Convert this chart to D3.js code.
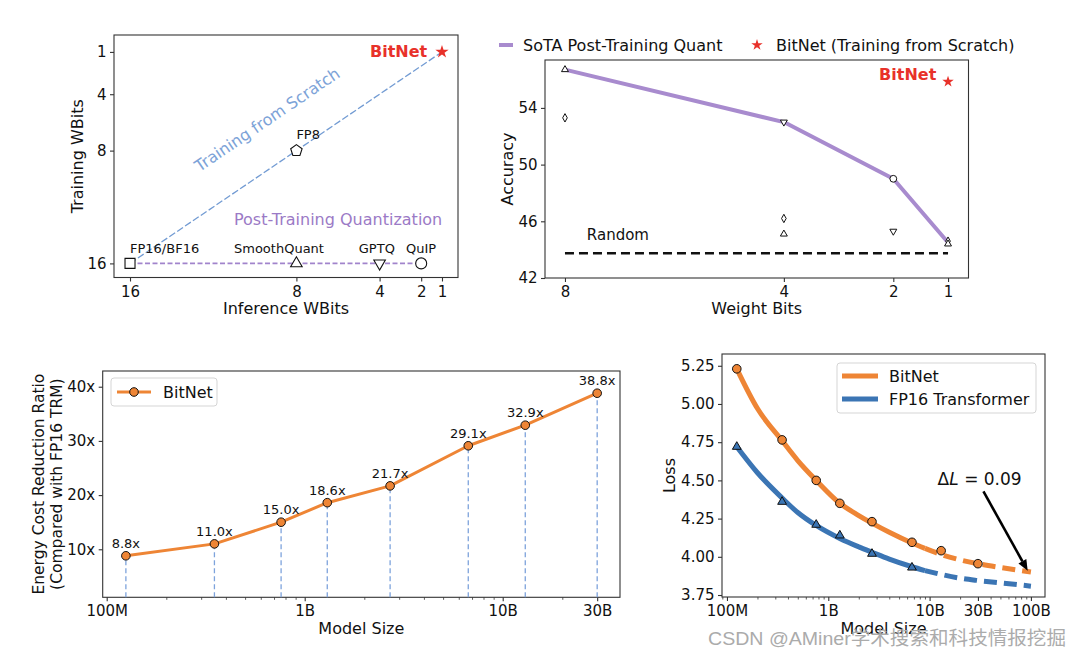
<!DOCTYPE html>
<html><head><meta charset="utf-8">
<script src="https://cdn.jsdelivr.net/npm/d3@7"></script>
<style>
body{margin:0;background:#fff;}
svg{display:block;font-family:"DejaVu Sans",sans-serif;}
</style></head><body>
<svg id="c" width="1074" height="656"></svg>
<script>
// ================= DATA =================
// Panel A: Training WBits vs Inference WBits
const aTickX = [16, 8, 4, 2, 1];
const aTickY = [1, 4, 8, 16];
const aMethods   = ["FP16/BF16", "SmoothQuant", "GPTQ", "QuIP", "FP8", "BitNet"];
const aInferBits = [16, 8, 4, 2, 8, 1];
const aTrainBits = [16, 16, 16, 16, 8, 1];
const aShapes    = ["square", "triangle", "triangleDown", "circle", "pentagon", "star"];
const aLabelX    = [16, 11.0, 5.0, 2.73, 8.0, 4.46];   // label anchor (data units)
const aLabelY    = [15.25, 15.25, 15.25, 15.25, 7.2, 1.35];
// Panel B: Accuracy vs Weight Bits
const bBits = [8, 4, 2, 1];
const bSota = [56.7, 53.0, 49.0, 44.5];
const bTriUpBits = [8, 4, 1],   bTriUpAcc = [56.7, 45.1, 44.4];
const bDiamBits  = [8, 4, 1],   bDiamAcc  = [53.3, 46.2, 44.6];
const bTriDnBits = [4, 2],      bTriDnAcc = [53.0, 45.3];
const bCircBits  = [2],         bCircAcc  = [49.0];
const bBitNetBits = 1, bBitNetAcc = 55.85;
const bRandom = 43.75;
const bTickX = [8, 4, 2, 1];
const bTickY = [42, 46, 50, 54];
// Panel C: Energy cost reduction
const cSizes = [1.25e8, 3.5e8, 7.6e8, 1.3e9, 2.7e9, 6.7e9, 1.3e10, 3e10];
const cRatio = [8.8, 11.0, 15.0, 18.6, 21.7, 29.1, 32.9, 38.8];
const cTickX = [1e8, 1e9, 1e10, 3e10];
const cTickXLabels = ["100M", "1B", "10B", "30B"];
const cTickY = [10, 20, 30, 40];
// Panel D: Loss scaling
const dSizes = [1.25e8, 3.5e8, 7.6e8, 1.3e9, 2.7e9, 6.7e9, 1.3e10, 3e10];
const dBitNetLoss = [5.23, 4.765, 4.50, 4.35, 4.23, 4.095, 4.04, 3.955];
const dFP16Sizes = [1.25e8, 3.5e8, 7.6e8, 1.3e9, 2.7e9, 6.7e9];
const dFP16Loss = [4.72, 4.36, 4.21, 4.14, 4.02, 3.93];
const dCurveSizes = [1.25e8, 2e8, 3.5e8, 5e8, 7.6e8, 1.3e9, 2e9, 2.7e9, 4e9, 6.7e9, 9e9, 1.3e10, 2e10, 3e10, 5e10, 1e11];
const dBitNetFit  = [5.23, 4.97, 4.76, 4.63, 4.50, 4.35, 4.27, 4.22, 4.16, 4.09, 4.055, 4.015, 3.98, 3.955, 3.93, 3.90];
const dFP16Fit    = [4.72, 4.55, 4.385, 4.29, 4.205, 4.12, 4.065, 4.03, 3.985, 3.935, 3.91, 3.885, 3.86, 3.845, 3.83, 3.808];
const dSolidUntil = 9e9;
const dTickX = [1e8, 1e9, 1e10, 3e10, 1e11];
const dTickXLabels = ["100M", "1B", "10B", "30B", "100B"];
const dTickY = [3.75, 4.0, 4.25, 4.5, 4.75, 5.0, 5.25];
const dArrowFrom = [3.4e10, 4.428], dArrowTo = [9.3e10, 3.908];
const dDeltaPos = [1.2e10, 4.47];

// ================= HELPERS =================
const FONT = "DejaVu Sans";
const TICKFS = 15, LABELFS = 16, TSIZE = 4, TPAD = 4.5;
const svg = d3.select("#c");
svg.append("rect").attr("width", 1074).attr("height", 656).attr("fill", "#fff");
const SPINE = "#333";

function frame(x0, x1, y0, y1) {
  svg.append("rect").attr("x", x0).attr("y", y0).attr("width", x1 - x0).attr("height", y1 - y0)
    .attr("fill", "none").attr("stroke", SPINE).attr("stroke-width", 1.1);
}
function styleAxis(g, fs) {
  g.select(".domain").remove();
  g.selectAll(".tick line").attr("stroke", SPINE).attr("stroke-width", 1.1);
  g.selectAll(".tick text").attr("fill", "#111").attr("font-size", fs).attr("font-family", FONT);
}
function minorTicks(scale, majors) {
  const [a, b] = scale.domain(); const out = [];
  for (let e = 7; e <= 11; e++) for (let k = 2; k <= 9; k++) {
    const v = k * Math.pow(10, e);
    if (v >= a && v <= b && !majors.some(m => Math.abs(m - v) / v < 1e-6)) out.push(v);
  }
  return out;
}
function txt(x, y, s, fs, opts = {}) {
  const t = svg.append("text").attr("x", x).attr("y", y).text(s)
    .attr("font-size", fs).attr("font-family", FONT).attr("fill", opts.fill || "#111");
  if (opts.anchor) t.attr("text-anchor", opts.anchor);
  if (opts.weight) t.attr("font-weight", opts.weight);
  if (opts.rotate !== undefined) t.attr("transform", `rotate(${opts.rotate},${x},${y})`);
  return t;
}
function shapePath(type, r) {
  if (type === "square") return d3.symbol(d3.symbolSquare, (2 * r) * (2 * r))();
  if (type === "triangle" || type === "triangleDown") {
    const s = 2 * r * 1.05; return d3.symbol(d3.symbolTriangle, s * s * Math.sqrt(3) / 4)();
  }
  if (type === "circle") return d3.symbol(d3.symbolCircle, Math.PI * r * r)();
  if (type === "star") return d3.symbol(d3.symbolStar, r * r / 0.8908130915292852)();
  if (type === "pentagon") {
    const pts = d3.range(5).map(i => { const a = -Math.PI / 2 + i * 2 * Math.PI / 5; return [r * Math.cos(a), r * Math.sin(a)]; });
    return "M" + pts.map(p => p.join(",")).join("L") + "Z";
  }
  if (type === "thinDiamond") return `M0,${-r}L${r * 0.55},0L0,${r}L${-r * 0.55},0Z`;
}
function marker(x, y, type, r, fill, stroke, sw) {
  svg.append("path").attr("d", shapePath(type, r))
    .attr("transform", `translate(${x},${y})` + (type === "triangleDown" ? " rotate(180)" : ""))
    .attr("fill", fill).attr("stroke", stroke).attr("stroke-width", sw);
}
function axes(x, y, X0, Y1, xv, xf, yv, yf, minor) {
  const gx = svg.append("g").attr("transform", `translate(0,${Y1})`)
    .call(d3.axisBottom(x).tickValues(xv).tickFormat(xf).tickSize(TSIZE).tickPadding(TPAD));
  styleAxis(gx, TICKFS);
  if (minor) {
    const gm = svg.append("g").attr("transform", `translate(0,${Y1})`)
      .call(d3.axisBottom(x).tickValues(minorTicks(x, xv)).tickFormat("").tickSize(2.5));
    styleAxis(gm, TICKFS); gm.selectAll(".tick line").attr("stroke-width", 0.8);
  }
  const gy = svg.append("g").attr("transform", `translate(${X0},0)`)
    .call(d3.axisLeft(y).tickValues(yv).tickFormat(yf).tickSize(TSIZE).tickPadding(TPAD - 1));
  styleAxis(gy, TICKFS);
}

// ================= PANEL A =================
(function () {
  const X0 = 114, X1 = 458, Y0 = 35, Y1 = 277.5;
  const x = d3.scaleLinear().domain([16.77, 0.23]).range([X0, X1]);
  const y = d3.scaleLinear().domain([-0.2, 17]).range([Y0, Y1]);
  axes(x, y, X0, Y1, aTickX, d3.format("d"), aTickY, d3.format("d"), false);
  frame(X0, X1, Y0, Y1);

  const line = d3.line().x(i => x(aInferBits[i])).y(i => y(aTrainBits[i]));
  svg.append("path").attr("d", line([0, 5])).attr("fill", "none")
    .attr("stroke", "#729bd3").attr("stroke-width", 1.3).attr("stroke-dasharray", "7,2.5");
  svg.append("path").attr("d", line([0, 1, 2, 3])).attr("fill", "none")
    .attr("stroke", "#a184cc").attr("stroke-width", 1.6).attr("stroke-dasharray", "5,2.5");

  aShapes.forEach((s, i) => {
    if (s === "star") marker(x(aInferBits[i]), y(aTrainBits[i]), s, 7, "#e8312a", "none", 0);
    else marker(x(aInferBits[i]), y(aTrainBits[i]), s, s === "square" ? 5 : (s === "pentagon" ? 6 : 5.5), "#fff", "#111", 1.1);
  });
  aMethods.forEach((m, i) => {
    if (m === "BitNet") txt(x(aLabelX[i]), y(aLabelY[i]), m, 16, { fill: "#e8312a", weight: "bold" });
    else txt(x(aLabelX[i]), y(aLabelY[i]), m, 13);
  });
  const ang = Math.atan2(y(1) - y(16), x(1) - x(16)) * 180 / Math.PI;
  txt(x(9.4), y(5.8), "Training from Scratch", 16, { fill: "#7da3d8", anchor: "middle", rotate: ang })
    .attr("dy", "0.35em");
  txt(x(11.0), y(13.28), "Post-Training Quantization", 16, { fill: "#9b7ac6" });

  txt((X0 + X1) / 2, 314, "Inference WBits", LABELFS, { anchor: "middle" });
  txt(83, (Y0 + Y1) / 2, "Training WBits", LABELFS, { anchor: "middle", rotate: -90 });
})();

// ================= PANEL B =================
(function () {
  const X0 = 545, X1 = 968.5, Y0 = 60, Y1 = 278;
  const x = d3.scaleLinear().domain([8.365, 0.626]).range([X0, X1]);
  const y = d3.scaleLinear().domain([42, 57.38]).range([Y1, Y0]);
  axes(x, y, X0, Y1, bTickX, d3.format("d"), bTickY, d3.format("d"), false);
  frame(X0, X1, Y0, Y1);

  svg.append("line").attr("x1", x(8)).attr("x2", x(1)).attr("y1", y(bRandom)).attr("y2", y(bRandom))
    .attr("stroke", "#111").attr("stroke-width", 2.6).attr("stroke-dasharray", "9,5");
  txt(x(7.6), y(bRandom) - 13.5, "Random", 15);

  svg.append("path").attr("d", d3.line().x((d, i) => x(bBits[i])).y(d => y(d))(bSota))
    .attr("fill", "none").attr("stroke", "#a88bce").attr("stroke-width", 4).attr("stroke-linejoin", "round");

  bDiamBits.forEach((b, i) => marker(x(b), y(bDiamAcc[i]), "thinDiamond", 4.2, "#fff", "#111", 1));
  bTriUpBits.forEach((b, i) => marker(x(b), y(bTriUpAcc[i]), "triangle", 3.3, "#fff", "#111", 1));
  bTriDnBits.forEach((b, i) => marker(x(b), y(bTriDnAcc[i]), "triangleDown", 3.3, "#fff", "#111", 1));
  bCircBits.forEach((b, i) => marker(x(b), y(bCircAcc[i]), "circle", 3.4, "#fff", "#111", 1));

  marker(x(bBitNetBits), y(bBitNetAcc), "star", 6, "#e8312a", "none", 0);
  txt(x(2.26), y(bBitNetAcc) - 1.7, "BitNet", 16, { fill: "#e8312a", weight: "bold" });

  svg.append("line").attr("x1", 499).attr("x2", 513).attr("y1", 45).attr("y2", 45)
    .attr("stroke", "#a88bce").attr("stroke-width", 4);
  txt(523, 50.8, "SoTA Post-Training Quant", 16);
  marker(757, 45, "star", 6, "#e8312a", "none", 0);
  txt(776, 50.8, "BitNet (Training from Scratch)", 16);

  txt((X0 + X1) / 2, 313.5, "Weight Bits", LABELFS, { anchor: "middle" });
  txt(513, (Y0 + Y1) / 2, "Accuracy", LABELFS, { anchor: "middle", rotate: -90 });
})();

// ================= PANEL C =================
(function () {
  const X0 = 102.7, X1 = 620, Y0 = 371, Y1 = 597.3;
  const x = d3.scaleLog().domain([9.546e7, 3.912e10]).range([X0, X1]);
  const y = d3.scaleLinear().domain([1.14, 42.9]).range([Y1, Y0]);
  axes(x, y, X0, Y1, cTickX, (d, i) => cTickXLabels[i], cTickY, d => d + "x", true);
  frame(X0, X1, Y0, Y1);

  cSizes.forEach((s, i) => {
    svg.append("line").attr("x1", x(s)).attr("x2", x(s)).attr("y1", Y1).attr("y2", y(cRatio[i]))
      .attr("stroke", "#7ea3dc").attr("stroke-width", 1.3).attr("stroke-dasharray", "5,3");
  });
  svg.append("path").attr("d", d3.line().x((d, i) => x(cSizes[i])).y(d => y(d))(cRatio))
    .attr("fill", "none").attr("stroke", "#ee8535").attr("stroke-width", 3).attr("stroke-linejoin", "round");
  cSizes.forEach((s, i) => {
    svg.append("circle").attr("cx", x(s)).attr("cy", y(cRatio[i])).attr("r", 4.3)
      .attr("fill", "#ee8535").attr("stroke", "#111").attr("stroke-width", 1);
    txt(x(s), y(cRatio[i]) - 8, cRatio[i].toFixed(1) + "x", 13, { anchor: "middle" });
  });

  svg.append("rect").attr("x", 111).attr("y", 378).attr("width", 106).attr("height", 28).attr("rx", 3)
    .attr("fill", "#fff").attr("fill-opacity", 0.8).attr("stroke", "#d5d5d5");
  svg.append("line").attr("x1", 117).attr("x2", 151).attr("y1", 392).attr("y2", 392)
    .attr("stroke", "#ee8535").attr("stroke-width", 3);
  svg.append("circle").attr("cx", 134).attr("cy", 392).attr("r", 4.3)
    .attr("fill", "#ee8535").attr("stroke", "#111").attr("stroke-width", 1);
  txt(163, 397.5, "BitNet", 16);

  txt((X0 + X1) / 2, 633.5, "Model Size", LABELFS, { anchor: "middle" });
  txt(44, (Y0 + Y1) / 2, "Energy Cost Reduction Ratio", 15.5, { anchor: "middle", rotate: -90 });
  txt(62, (Y0 + Y1) / 2, "(Compared with FP16 TRM)", 15.5, { anchor: "middle", rotate: -90 });
})();

// ================= PANEL D =================
(function () {
  const X0 = 722, X1 = 1045, Y0 = 354, Y1 = 597;
  const x = d3.scaleLog().domain([Math.pow(10, 7.951), Math.pow(10, 11.139)]).range([X0, X1]);
  const y = d3.scaleLinear().domain([3.737, 5.327]).range([Y1, Y0]);
  axes(x, y, X0, Y1, dTickX, (d, i) => dTickXLabels[i], dTickY, d3.format(".2f"), true);
  frame(X0, X1, Y0, Y1);

  const ln = d3.line().curve(d3.curveMonotoneX).x(d => x(d[0])).y(d => y(d[1]));
  function fitCurve(vals, color) {
    const pts = dCurveSizes.map((s, i) => [s, vals[i]]);
    const solid = pts.filter(p => p[0] <= dSolidUntil);
    const dashed = pts.filter(p => p[0] >= dSolidUntil);
    svg.append("path").attr("d", ln(solid)).attr("fill", "none").attr("stroke", color).attr("stroke-width", 5);
    svg.append("path").attr("d", ln(dashed)).attr("fill", "none").attr("stroke", color).attr("stroke-width", 5)
      .attr("stroke-dasharray", "13,7");
  }
  fitCurve(dBitNetFit, "#ee8535");
  fitCurve(dFP16Fit, "#3b75b4");

  dSizes.forEach((s, i) => svg.append("circle").attr("cx", x(s)).attr("cy", y(dBitNetLoss[i])).attr("r", 4.3)
    .attr("fill", "#ee8535").attr("stroke", "#111").attr("stroke-width", 1));
  dFP16Sizes.forEach((s, i) => marker(x(s), y(dFP16Loss[i]), "triangle", 4.2, "#3b75b4", "#111", 1));

  const ax1 = x(dArrowFrom[0]), ay1 = y(dArrowFrom[1]), ax2 = x(dArrowTo[0]), ay2 = y(dArrowTo[1]);
  const a = Math.atan2(ay2 - ay1, ax2 - ax1), hl = 11, hw = 4.5;
  const bx = ax2 - hl * Math.cos(a), by = ay2 - hl * Math.sin(a);
  svg.append("line").attr("x1", ax1).attr("y1", ay1).attr("x2", bx).attr("y2", by)
    .attr("stroke", "#000").attr("stroke-width", 2.6);
  svg.append("path").attr("d", `M${ax2},${ay2}L${bx - hw * Math.sin(a)},${by + hw * Math.cos(a)}L${bx + hw * Math.sin(a)},${by - hw * Math.cos(a)}Z`)
    .attr("fill", "#000");
  const t = svg.append("text").attr("x", x(dDeltaPos[0])).attr("y", y(dDeltaPos[1]))
    .attr("font-size", 17).attr("font-family", FONT).attr("fill", "#111");
  t.append("tspan").text("Δ");
  t.append("tspan").text("L").attr("font-style", "italic");
  t.append("tspan").text(" = 0.09");

  svg.append("rect").attr("x", 837).attr("y", 363).attr("width", 199).attr("height", 50).attr("rx", 3)
    .attr("fill", "#fff").attr("fill-opacity", 0.8).attr("stroke", "#d5d5d5");
  svg.append("line").attr("x1", 842).attr("x2", 878).attr("y1", 376).attr("y2", 376)
    .attr("stroke", "#ee8535").attr("stroke-width", 5);
  svg.append("line").attr("x1", 842).attr("x2", 878).attr("y1", 399).attr("y2", 399)
    .attr("stroke", "#3b75b4").attr("stroke-width", 5);
  txt(889, 381.5, "BitNet", 16);
  txt(889, 404.5, "FP16 Transformer", 16);

  txt((X0 + X1) / 2, 633.5, "Model Size", LABELFS, { anchor: "middle" });
  txt(675, (Y0 + Y1) / 2, "Loss", LABELFS, { anchor: "middle", rotate: -90 });
})();

// ================= WATERMARK =================
svg.append("text").attr("x", 708).attr("y", 645)
  .attr("font-size", 19).attr("font-family", "'Liberation Sans','Noto Sans CJK SC',sans-serif")
  .attr("fill", "#ababab").attr("textLength", 358).attr("lengthAdjust", "spacingAndGlyphs")
  .text("CSDN @AMiner学术搜索和科技情报挖掘");
</script>
</body></html>
